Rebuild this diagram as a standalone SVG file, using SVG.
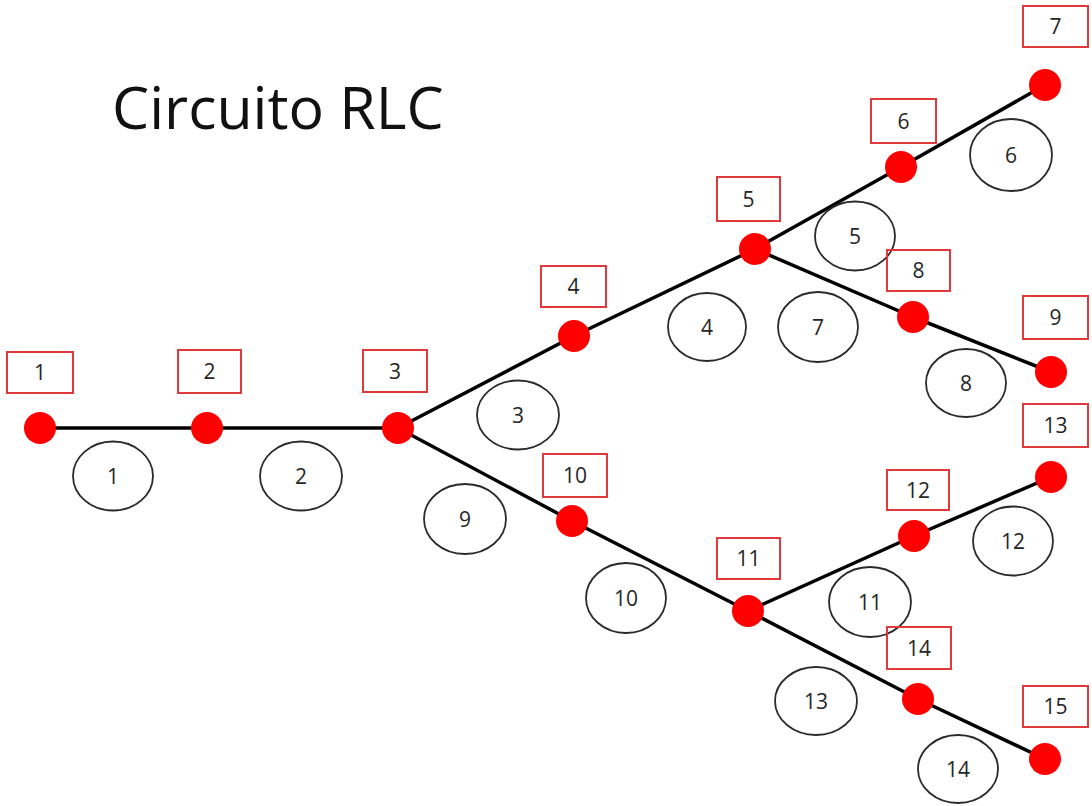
<svg xmlns="http://www.w3.org/2000/svg" width="1092" height="806" viewBox="0 0 1092 806">
  <style>
    .wire { stroke: #000; stroke-width: 3.5; stroke-linecap: round; fill: none; }
    .branch { fill: none; stroke: #2a2a2a; stroke-width: 1.8; }
    .dot { fill: #ff0000; }
    .tag { fill: none; stroke: #e0393c; stroke-width: 2; }
    .num { font-family: "Open Sans", "Liberation Sans", sans-serif; font-size: 21px; fill: #262626; text-anchor: middle; }
    .title { font-family: "Open Sans", "Liberation Sans", sans-serif; font-size: 59px; fill: #111; }
  </style>
  <rect width="1092" height="806" fill="#fff"/>

  <text class="title" x="112" y="129">Circuito RLC</text>

  <!-- wires between nodes, with the numbered branch ellipses -->
  <g id="connectors">
    <line class="wire" x1="40" y1="428" x2="207" y2="428"/>
    <line class="wire" x1="207" y1="428" x2="398" y2="428"/>
    <line class="wire" x1="398" y1="428" x2="574" y2="336"/>
    <line class="wire" x1="574" y1="336" x2="755" y2="249"/>
    <line class="wire" x1="755" y1="249" x2="901" y2="167"/>
    <line class="wire" x1="901" y1="167" x2="1045" y2="85"/>
    <line class="wire" x1="755" y1="249" x2="913" y2="317"/>
    <line class="wire" x1="913" y1="317" x2="1051" y2="372"/>
    <line class="wire" x1="398" y1="428" x2="572" y2="521"/>
    <line class="wire" x1="572" y1="521" x2="748" y2="611"/>
    <line class="wire" x1="748" y1="611" x2="914" y2="536"/>
    <line class="wire" x1="914" y1="536" x2="1051" y2="477"/>
    <line class="wire" x1="748" y1="611" x2="918" y2="699"/>
    <line class="wire" x1="918" y1="699" x2="1045" y2="759"/>

    <g id="branch-1"><ellipse class="branch" cx="113" cy="476" rx="40" ry="34.5"/><text class="num" x="113" y="483.5">1</text></g>
    <g id="branch-2"><ellipse class="branch" cx="301" cy="476" rx="41" ry="34.5"/><text class="num" x="301" y="483.5">2</text></g>
    <g id="branch-3"><ellipse class="branch" cx="518" cy="415" rx="41" ry="34.5"/><text class="num" x="518" y="422.5">3</text></g>
    <g id="branch-4"><ellipse class="branch" cx="707" cy="327" rx="39" ry="34"/><text class="num" x="707" y="334.5">4</text></g>
    <g id="branch-5"><ellipse class="branch" cx="855" cy="236" rx="40" ry="34.5"/><text class="num" x="855" y="243.5">5</text></g>
    <g id="branch-6"><ellipse class="branch" cx="1011" cy="155" rx="41" ry="36"/><text class="num" x="1011" y="162.5">6</text></g>
    <g id="branch-7"><ellipse class="branch" cx="818" cy="327" rx="40" ry="35"/><text class="num" x="818" y="334.5">7</text></g>
    <g id="branch-8"><ellipse class="branch" cx="966" cy="383" rx="40" ry="34"/><text class="num" x="966" y="390.5">8</text></g>
    <g id="branch-9"><ellipse class="branch" cx="465" cy="519" rx="41" ry="35"/><text class="num" x="465" y="526.5">9</text></g>
    <g id="branch-10"><ellipse class="branch" cx="626" cy="598" rx="40" ry="35"/><text class="num" x="626" y="605.5">10</text></g>
    <g id="branch-11"><ellipse class="branch" cx="870" cy="602" rx="41" ry="35"/><text class="num" x="870" y="609.5">11</text></g>
    <g id="branch-12"><ellipse class="branch" cx="1013" cy="541" rx="40" ry="34.5"/><text class="num" x="1013" y="548.5">12</text></g>
    <g id="branch-13"><ellipse class="branch" cx="816" cy="701" rx="41" ry="34"/><text class="num" x="816" y="708.5">13</text></g>
    <g id="branch-14"><ellipse class="branch" cx="958" cy="769" rx="40" ry="34"/><text class="num" x="958" y="776.5">14</text></g>
  </g>

  <!-- nodes: red dot plus boxed number -->
  <g id="node-1"><circle class="dot" cx="40" cy="428" r="16"/><rect class="tag" x="7" y="352" width="66" height="41"/><text class="num" x="40" y="380">1</text></g>
  <g id="node-2"><circle class="dot" cx="207" cy="428" r="16"/><rect class="tag" x="178" y="350" width="63" height="43"/><text class="num" x="209.5" y="379">2</text></g>
  <g id="node-3"><circle class="dot" cx="398" cy="428" r="16"/><rect class="tag" x="363" y="350" width="64" height="42"/><text class="num" x="395" y="378.5">3</text></g>
  <g id="node-4"><circle class="dot" cx="574" cy="336" r="16"/><rect class="tag" x="541" y="266" width="65" height="41"/><text class="num" x="573.5" y="294">4</text></g>
  <g id="node-5"><circle class="dot" cx="755" cy="249" r="16"/><rect class="tag" x="717" y="177" width="63" height="44"/><text class="num" x="748.5" y="206.5">5</text></g>
  <g id="node-6"><circle class="dot" cx="901" cy="167" r="16"/><rect class="tag" x="871" y="99" width="65" height="44"/><text class="num" x="903.5" y="128.5">6</text></g>
  <g id="node-7"><circle class="dot" cx="1045" cy="85" r="16"/><rect class="tag" x="1023" y="6" width="65" height="41"/><text class="num" x="1055.5" y="34">7</text></g>
  <g id="node-8"><circle class="dot" cx="913" cy="317" r="16"/><rect class="tag" x="887" y="250" width="63" height="41"/><text class="num" x="918.5" y="278">8</text></g>
  <g id="node-9"><circle class="dot" cx="1051" cy="372" r="16"/><rect class="tag" x="1023" y="296" width="65" height="43"/><text class="num" x="1055.5" y="325">9</text></g>
  <g id="node-10"><circle class="dot" cx="572" cy="521" r="16"/><rect class="tag" x="543" y="454" width="64" height="43"/><text class="num" x="575" y="483">10</text></g>
  <g id="node-11"><circle class="dot" cx="748" cy="611" r="16"/><rect class="tag" x="717" y="538" width="63" height="41"/><text class="num" x="748.5" y="566">11</text></g>
  <g id="node-12"><circle class="dot" cx="914" cy="536" r="16"/><rect class="tag" x="887" y="470" width="62" height="40"/><text class="num" x="918" y="497.5">12</text></g>
  <g id="node-13"><circle class="dot" cx="1051" cy="477" r="16"/><rect class="tag" x="1023" y="404" width="65" height="43"/><text class="num" x="1055.5" y="433">13</text></g>
  <g id="node-14"><circle class="dot" cx="918" cy="699" r="16"/><rect class="tag" x="887" y="627" width="64" height="42"/><text class="num" x="919" y="655.5">14</text></g>
  <g id="node-15"><circle class="dot" cx="1045" cy="759" r="16"/><rect class="tag" x="1023" y="686" width="65" height="41"/><text class="num" x="1055.5" y="714">15</text></g>
</svg>
